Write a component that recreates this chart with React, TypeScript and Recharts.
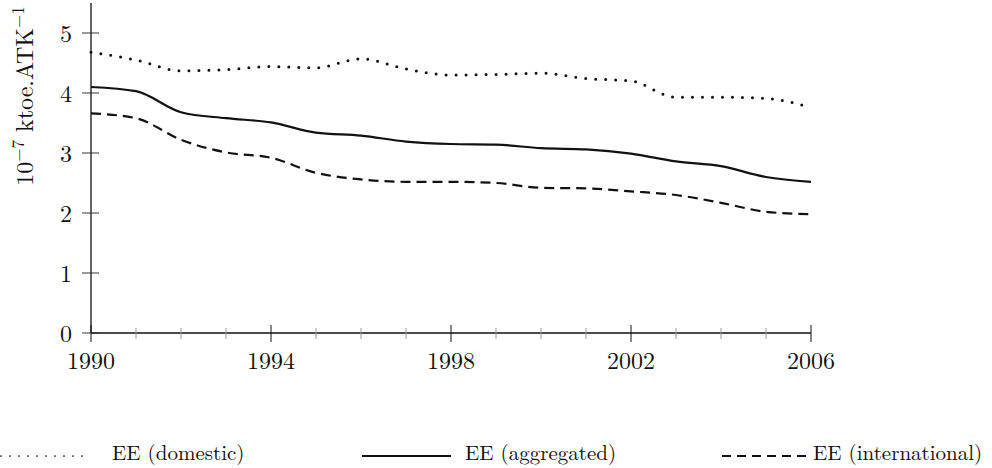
import React from 'react';
import { LineChart, Line, XAxis, YAxis, Legend } from 'recharts';

const years = [1990, 1991, 1992, 1993, 1994, 1995, 1996, 1997, 1998, 1999, 2000, 2001, 2002, 2003, 2004, 2005, 2006];
const domestic = [4.68, 4.55, 4.37, 4.39, 4.44, 4.42, 4.57, 4.4, 4.3, 4.31, 4.33, 4.24, 4.2, 3.93, 3.93, 3.91, 3.76];
const aggregated = [4.1, 4.03, 3.68, 3.58, 3.51, 3.34, 3.29, 3.19, 3.15, 3.14, 3.08, 3.06, 2.99, 2.86, 2.78, 2.6, 2.52];
const international = [3.66, 3.58, 3.22, 3.01, 2.92, 2.67, 2.56, 2.52, 2.52, 2.5, 2.42, 2.41, 2.36, 2.3, 2.17, 2.02, 1.98];
const yTicks = [0, 1, 2, 3, 4, 5];
const legendLabels = ['EE (domestic)', 'EE (aggregated)', 'EE (international)'];

const data = years.map((year, i) => ({
  year,
  domestic: domestic[i],
  aggregated: aggregated[i],
  international: international[i],
}));

const FONT = { fontFamily: '"Latin Modern Roman", "Liberation Serif", serif' };
const INK = '#111';

// x ticks: every year, gray minor marks, black major marks with labels every 4 years
const XTick = (props: any) => {
  const { x, y, payload } = props;
  const major = (payload.value - 1990) % 4 === 0;
  return (
    <g>
      <line
        x1={x}
        x2={x}
        y1={major ? y - 8 : y - 5}
        y2={major ? y + 9 : y + 6}
        stroke={major ? INK : '#999'}
        strokeWidth={1}
      />
      {major && (
        <text x={x} y={y + 36} textAnchor="middle" style={FONT} fontSize={24} fill={INK}>
          {payload.value}
        </text>
      )}
    </g>
  );
};

const YTick = (props: any) => {
  const { x, y, payload } = props;
  return (
    <g>
      <line x1={x - 9} x2={x + 8} y1={y} y2={y} stroke="#333" strokeWidth={1} />
      <text x={x - 19} y={y + 9} textAnchor="end" style={FONT} fontSize={24} fill={INK}>
        {payload.value}
      </text>
    </g>
  );
};

const YLabel = (props: any) => {
  const { viewBox } = props;
  const x = viewBox.x + 33;
  const y = viewBox.y + 93;
  return (
    <text
      x={x}
      y={y}
      transform={`rotate(-90, ${x}, ${y})`}
      textAnchor="middle"
      style={FONT}
      fontSize={24}
      fill={INK}
    >
      10
      <tspan dy={-9} fontSize={17}>−7</tspan>
      <tspan dy={9}> ktoe.ATK</tspan>
      <tspan dy={-9} fontSize={17}>−1</tspan>
    </text>
  );
};

const LegendBox = () => (
  <svg width={992} height={40} style={{ display: 'block' }}>
    <line x1={1} x2={91} y1={28} y2={28} stroke="#000" strokeWidth={1.7} strokeDasharray="0 9" strokeLinecap="round" />
    <text x={112} y={32} style={FONT} fontSize={21} fill={INK}>{legendLabels[0]}</text>
    <line x1={362} x2={451} y1={28} y2={28} stroke={INK} strokeWidth={2.2} />
    <text x={465} y={32} style={FONT} fontSize={21} fill={INK}>{legendLabels[1]}</text>
    <line x1={722} x2={812} y1={28} y2={28} stroke={INK} strokeWidth={2.2} strokeDasharray="9 6" />
    <text x={813} y={32} style={FONT} fontSize={21} fill={INK}>{legendLabels[2]}</text>
  </svg>
);

export default function App() {
  return (
    <div style={{ position: 'absolute', left: 0, top: 0, width: 992, height: 468, background: '#fff' }}>
      <LineChart width={992} height={468} data={data} margin={{ top: 3, right: 181, bottom: 0, left: 0 }}>
        <XAxis
          dataKey="year"
          type="number"
          domain={[1990, 2006]}
          ticks={years}
          interval={0}
          height={95}
          tickSize={0}
          tickMargin={0}
          tickLine={false}
          tick={<XTick />}
          axisLine={{ stroke: INK, strokeWidth: 1.3 }}
        />
        <YAxis
          type="number"
          domain={[0, 5.5]}
          ticks={yTicks}
          interval={0}
          width={91}
          tickSize={0}
          tickMargin={0}
          tickLine={false}
          tick={<YTick />}
          axisLine={{ stroke: INK, strokeWidth: 1.3 }}
          label={{ content: <YLabel /> }}
        />
        <Legend
          verticalAlign="bottom"
          content={<LegendBox />}
          wrapperStyle={{ left: 0, width: 992, bottom: 0 }}
        />
        <Line
          type="monotone"
          dataKey="domestic"
          stroke={INK}
          strokeWidth={3}
          strokeDasharray="0 10"
          strokeLinecap="round"
          dot={false}
          isAnimationActive={false}
        />
        <Line
          type="monotone"
          dataKey="aggregated"
          stroke={INK}
          strokeWidth={2.2}
          dot={false}
          isAnimationActive={false}
        />
        <Line
          type="monotone"
          dataKey="international"
          stroke={INK}
          strokeWidth={2.2}
          strokeDasharray="10 6"
          dot={false}
          isAnimationActive={false}
        />
      </LineChart>
    </div>
  );
}
